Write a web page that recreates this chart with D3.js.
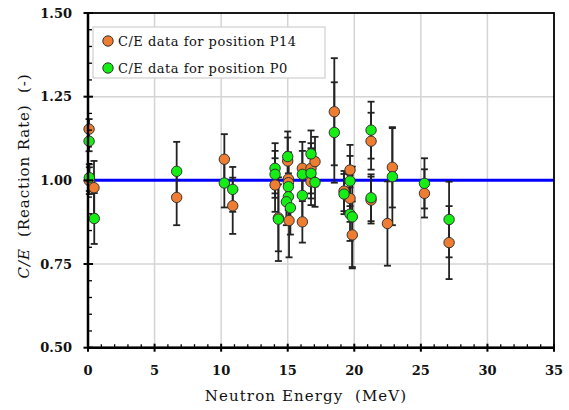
<!DOCTYPE html>
<html>
<head>
<meta charset="utf-8">
<script src="https://cdn.jsdelivr.net/npm/d3@7"></script>
<style>
    body { margin: 0; background: #fff; }
    svg { display: block; }
    text { font-family: "DejaVu Serif", serif; fill: #111; }
</style>
</head>
<body>
<svg width="569" height="410"></svg>
<script>
// C/E data, position P14 (orange)
var energyP14 = [0.08, 0.1, 0.45, 6.66, 10.24, 10.87, 14.05, 14.3, 15.0, 15.05, 15.05, 15.1, 16.1, 16.1, 16.75, 16.75, 17.05, 18.5, 19.23, 19.68, 19.68, 19.85, 21.26, 21.26, 22.49, 22.86, 25.27, 27.12];
var ratioP14 = [1.153, 0.999, 0.978, 0.949, 1.063, 0.924, 0.986, 0.888, 1.058, 1.004, 0.993, 0.880, 1.036, 0.876, 1.036, 0.996, 1.056, 1.205, 0.968, 1.031, 0.946, 0.837, 1.117, 0.941, 0.871, 1.039, 0.961, 0.814];
var errP14 = [0.03, 0.04, 0.08, 0.083, 0.075, 0.084, 0.08, 0.1, 0.07, 0.08, 0.08, 0.11, 0.079, 0.062, 0.075, 0.07, 0.074, 0.16, 0.06, 0.075, 0.07, 0.1, 0.085, 0.07, 0.126, 0.12, 0.072, 0.109];

// C/E data, position P0 (green)
var energyP0 = [0.08, 0.1, 0.47, 6.66, 10.24, 10.87, 14.05, 14.05, 14.3, 15.0, 15.05, 15.05, 14.9, 15.2, 16.1, 16.1, 16.75, 16.75, 17.05, 18.5, 19.23, 19.68, 19.68, 19.85, 21.26, 21.26, 22.86, 25.27, 27.12];
var ratioP0 = [1.117, 1.008, 0.886, 1.027, 0.992, 0.973, 1.036, 1.018, 0.884, 1.071, 0.981, 0.951, 0.936, 0.918, 1.018, 0.955, 1.079, 1.021, 0.994, 1.143, 0.959, 0.998, 0.899, 0.891, 1.150, 0.948, 1.011, 0.991, 0.883];
var errP0 = [0.03, 0.04, 0.076, 0.088, 0.073, 0.067, 0.075, 0.07, 0.125, 0.075, 0.07, 0.07, 0.07, 0.08, 0.07, 0.07, 0.07, 0.075, 0.073, 0.15, 0.06, 0.075, 0.08, 0.15, 0.085, 0.07, 0.145, 0.075, 0.113];

var xTicks = [0, 5, 10, 15, 20, 25, 30, 35];
var yTicks = [0.50, 0.75, 1.00, 1.25, 1.50];
var legendLabels = ["C/E data for position P14", "C/E data for position P0"];

var ORANGE = "#ee7d31";
var GREEN = "#14ee14";

function toPoints(es, rs, errs, color) {
    return es.map((e, i) => { return {e: e, r: rs[i], err: errs[i], color: color}; });
}

document.addEventListener("DOMContentLoaded", () => {
    let svg = d3.select("svg");
    let x = d3.scaleLinear().domain([0, 35]).range([88, 554]);
    let y = d3.scaleLinear().domain([0.5, 1.5]).range([347.7, 13]);

    // grid
    let grid = svg.append("g").attr("stroke", "#d4d4d4").attr("stroke-width", 1.5);
    grid.selectAll(".gx").data(xTicks.slice(1, -1)).enter().append("line")
        .attr("x1", d => x(d)).attr("x2", d => x(d))
        .attr("y1", y(1.5)).attr("y2", y(0.5));
    grid.selectAll(".gy").data(yTicks.slice(1, -1)).enter().append("line")
        .attr("x1", x(0)).attr("x2", x(35))
        .attr("y1", d => y(d)).attr("y2", d => y(d));

    // reference line at C/E = 1
    svg.append("line")
        .attr("x1", x(0)).attr("x2", x(35))
        .attr("y1", y(1)).attr("y2", y(1))
        .attr("stroke", "#0000ff").attr("stroke-width", 3);

    let p14 = toPoints(energyP14, ratioP14, errP14, ORANGE);
    let p0 = toPoints(energyP0, ratioP0, errP0, GREEN);
    let all = p14.concat(p0);

    // error bars
    let bars = svg.append("g").attr("stroke", "#222").attr("stroke-width", 1.8);
    bars.selectAll(".v").data(all).enter().append("line")
        .attr("x1", d => x(d.e)).attr("x2", d => x(d.e))
        .attr("y1", d => y(d.r - d.err)).attr("y2", d => y(d.r + d.err));
    bars.selectAll(".ct").data(all).enter().append("line")
        .attr("x1", d => x(d.e) - 3.5).attr("x2", d => x(d.e) + 3.5)
        .attr("y1", d => y(d.r + d.err)).attr("y2", d => y(d.r + d.err));
    bars.selectAll(".cb").data(all).enter().append("line")
        .attr("x1", d => x(d.e) - 3.5).attr("x2", d => x(d.e) + 3.5)
        .attr("y1", d => y(d.r - d.err)).attr("y2", d => y(d.r - d.err));

    // markers
    svg.append("g").selectAll("circle").data(all).enter().append("circle")
        .attr("cx", d => x(d.e)).attr("cy", d => y(d.r))
        .attr("r", 5.2)
        .attr("fill", d => d.color)
        .attr("stroke", "#333").attr("stroke-width", 1);

    // axes: minor ticks inside, major ticks crossing
    let ax = svg.append("g").attr("transform", "translate(0," + y(0.5) + ")");
    ax.selectAll(".mt").data(d3.range(0, 36, 1)).enter().append("line")
        .attr("x1", d => x(d)).attr("x2", d => x(d))
        .attr("y1", d => d % 5 == 0 ? -4 : -3.5).attr("y2", d => d % 5 == 0 ? 4 : 0)
        .attr("stroke", "#000").attr("stroke-width", d => d % 5 == 0 ? 2 : 1.3);
    ax.selectAll("text").data(xTicks).enter().append("text")
        .attr("x", d => x(d)).attr("y", 27)
        .attr("text-anchor", "middle")
        .attr("font-size", 13).attr("font-weight", "bold")
        .text(d => d);

    let ay = svg.append("g").attr("transform", "translate(" + x(0) + ",0)");
    ay.selectAll(".mt").data(d3.range(0, 21, 1).map(i => 0.5 + i * 0.05)).enter().append("line")
        .attr("y1", d => y(d)).attr("y2", d => y(d))
        .attr("x1", (d, i) => i % 5 == 0 ? -4.5 : 0).attr("x2", (d, i) => i % 5 == 0 ? 5 : 4)
        .attr("stroke", "#000").attr("stroke-width", (d, i) => i % 5 == 0 ? 2 : 1.3);
    ay.selectAll("text").data(yTicks).enter().append("text")
        .attr("x", -16).attr("y", d => y(d) + 4.5)
        .attr("text-anchor", "end")
        .attr("font-size", 13).attr("font-weight", "bold")
        .text(d => d.toFixed(2));

    // frame
    svg.append("rect")
        .attr("x", x(0)).attr("y", y(1.5))
        .attr("width", x(35) - x(0)).attr("height", y(0.5) - y(1.5))
        .attr("fill", "none").attr("stroke", "#000").attr("stroke-width", 1.8);
    svg.append("line")
        .attr("x1", x(0)).attr("x2", x(0)).attr("y1", y(1.5)).attr("y2", y(0.5))
        .attr("stroke", "#000").attr("stroke-width", 2.5);
    svg.append("line")
        .attr("x1", x(0)).attr("x2", x(35)).attr("y1", y(0.5)).attr("y2", y(0.5))
        .attr("stroke", "#000").attr("stroke-width", 2.5);

    // legend
    let lg = svg.append("g");
    lg.append("rect")
        .attr("x", 93).attr("y", 27).attr("width", 232).attr("height", 51)
        .attr("fill", "#fff").attr("stroke", "#cfcfcf").attr("stroke-width", 1.2);
    let colors = [ORANGE, GREEN];
    legendLabels.forEach((lab, i) => {
        lg.append("circle").attr("cx", 108).attr("cy", 41 + i * 27).attr("r", 5.2)
            .attr("fill", colors[i]).attr("stroke", "#333").attr("stroke-width", 1);
        lg.append("text").attr("x", 118).attr("y", 46 + i * 27)
            .attr("font-size", 13).attr("letter-spacing", 0.5)
            .text(lab);
    });

    // axis titles
    svg.append("text")
        .attr("x", 306).attr("y", 401)
        .attr("text-anchor", "middle")
        .attr("font-size", 15).attr("letter-spacing", 1.1)
        .text("Neutron Energy\u00a0\u00a0(MeV)");

    let yt = svg.append("text")
        .attr("transform", "translate(29,176) rotate(-90)")
        .attr("text-anchor", "middle")
        .attr("font-size", 15).attr("letter-spacing", 0.9);
    yt.append("tspan").attr("font-style", "italic").text("C/E");
    yt.append("tspan").text("\u00a0\u00a0(Reaction Rate)\u00a0\u00a0(-)");
});
</script>
</body>
</html>
